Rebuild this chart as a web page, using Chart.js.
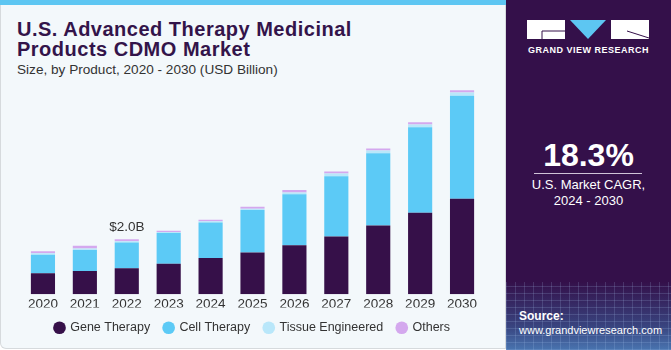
<!DOCTYPE html>
<html>
<head>
<meta charset="utf-8">
<script src="https://cdn.jsdelivr.net/npm/chart.js@4"></script>
<style>
  html, body { margin: 0; padding: 0; width: 671px; height: 350px; overflow: hidden; background: #fff; font-family: "Liberation Sans", Arial, sans-serif; }
  .left { position: absolute; left: 0; top: 0; width: 504px; height: 348px; background: #f3f8fb; border: 1px solid #d6dadd; border-top: none; border-radius: 0 0 0 6px; }
  .stripe { position: absolute; left: 0; top: 0; width: 506px; height: 5px; background: #5dc6f2; }
  .title { position: absolute; left: 17px; top: 19px; font-weight: bold; font-size: 20px; line-height: 20px; color: #33144a; letter-spacing: 0.5px; }
  .sub { position: absolute; left: 17px; top: 62px; font-size: 13.6px; color: #333; }
  .wrap { position: absolute; left: 0; top: 0; width: 505px; height: 350px; }
  .right { position: absolute; left: 506px; top: 0; width: 165px; height: 350px; background: #34104a; overflow: hidden; }
  .grid { position: absolute; left: 0; top: 282px; width: 165px; height: 68px;
    background:
      repeating-linear-gradient(90deg, rgba(170,200,240,0.18) 0 1px, transparent 1px 9px),
      repeating-linear-gradient(0deg, rgba(170,200,240,0.18) 0 1px, transparent 1px 7px),
      linear-gradient(to bottom, rgba(52,16,74,0) 0%, rgba(60,110,170,0.55) 65%, rgba(80,150,210,0.75) 100%); }
  .gvr { position: absolute; left: 0; top: 45px; width: 165px; text-align: center; color: #fff; font-weight: bold; font-size: 9px; letter-spacing: 0.5px; }
  .cagr { position: absolute; left: 0; top: 137px; width: 165px; text-align: center; color: #fff; font-weight: bold; font-size: 32px; }
  .line { position: absolute; left: 28px; top: 173px; width: 108px; height: 1px; background: #cfc3d8; }
  .cap { position: absolute; left: 0; top: 177px; width: 165px; text-align: center; color: #fff; font-size: 13px; line-height: 16px; }
  .src { position: absolute; left: 13px; top: 309px; color: #fff; font-size: 11px; line-height: 14px; }
  .src b { font-size: 12px; }
</style>
</head>
<body>
<div class="left"></div>
<div class="stripe"></div>
<div class="title">U.S. Advanced Therapy Medicinal<br>Products CDMO Market</div>
<div class="sub">Size, by Product, 2020 - 2030 (USD Billion)</div>
<div class="wrap"><canvas id="c"></canvas></div>
<div class="right">
  <svg style="position:absolute;left:21px;top:20px" width="122" height="20" viewBox="0 0 122 20">
    <rect x="0" y="0" width="38" height="19" fill="#fff"/>
    <line x1="15" y1="11" x2="38" y2="11" stroke="#34104a" stroke-width="1"/>
    <line x1="15" y1="11" x2="15" y2="19" stroke="#34104a" stroke-width="1"/>
    <polygon points="43,0 79,0 61,19" fill="#5dc6f2"/>
    <rect x="84" y="0" width="38" height="19" fill="#fff"/>
    <line x1="100" y1="11" x2="122" y2="18" stroke="#34104a" stroke-width="1"/>
  </svg>
  <div class="gvr">GRAND VIEW RESEARCH</div>
  <div class="cagr">18.3%</div>
  <div class="line"></div>
  <div class="cap">U.S. Market CAGR,<br>2024 - 2030</div>
  <div class="grid"></div>
  <div class="src"><b>Source:</b><br>www.grandviewresearch.com</div>
</div>
<script>
const years = ['2020', '2021', '2022', '2023', '2024', '2025', '2026', '2027', '2028', '2029', '2030'];
const geneTherapy = [0.76, 0.85, 0.95, 1.11, 1.32, 1.52, 1.78, 2.10, 2.50, 2.96, 3.47];
const cellTherapy = [0.68, 0.76, 0.93, 1.12, 1.29, 1.54, 1.85, 2.19, 2.62, 3.11, 3.74];
const tissueEngineered = [0.05, 0.05, 0.05, 0.03, 0.04, 0.05, 0.07, 0.10, 0.10, 0.10, 0.12];
const others = [0.07, 0.10, 0.07, 0.05, 0.06, 0.07, 0.09, 0.07, 0.07, 0.08, 0.08];
const labelYear = '2022';
const labelText = '$2.0B';

// value label above the 2022 stack
const barLabel = {
  id: 'barLabel',
  afterDatasetsDraw(chart) {
    const i = years.indexOf(labelYear);
    const meta = chart.getDatasetMeta(chart.data.datasets.length - 1);
    const bar = meta.data[i];
    const ctx = chart.ctx;
    ctx.save();
    ctx.font = '13.5px "Liberation Sans", Arial, sans-serif';
    ctx.fillStyle = '#333';
    ctx.textAlign = 'center';
    ctx.textBaseline = 'bottom';
    ctx.fillText(labelText, bar.x, bar.y - 5);
    ctx.restore();
  }
};

const common = { barPercentage: 0.6, categoryPercentage: 0.96, borderWidth: 0 };

new Chart(document.getElementById('c'), {
  type: 'bar',
  data: {
    labels: years,
    datasets: [
      { label: 'Gene Therapy', data: geneTherapy, backgroundColor: '#361049', ...common },
      { label: 'Cell Therapy', data: cellTherapy, backgroundColor: '#5ccaf6', ...common },
      { label: 'Tissue Engineered', data: tissueEngineered, backgroundColor: '#b9e7fa', ...common },
      { label: 'Others', data: others, backgroundColor: '#d4a8ee', ...common }
    ]
  },
  options: {
    responsive: true,
    maintainAspectRatio: false,
    animation: false,
    layout: { padding: { top: 85, left: 22, right: 22, bottom: 6 } },
    scales: {
      x: {
        stacked: true,
        grid: { display: false, drawTicks: false },
        border: { display: false },
        ticks: { color: '#333', font: { size: 13.5, family: '"Liberation Sans", Arial, sans-serif' }, padding: 2 },
        afterFit(scale) { scale.height -= 7; }
      },
      y: { stacked: true, display: false, min: 0, max: 7.6 }
    },
    plugins: {
      legend: {
        position: 'bottom',
        labels: {
          usePointStyle: true,
          pointStyle: 'circle',
          boxWidth: 9,
          boxHeight: 9,
          padding: 14,
          color: '#333',
          font: { size: 12.5, family: '"Liberation Sans", Arial, sans-serif' }
        }
      },
      tooltip: { enabled: false }
    }
  },
  plugins: [barLabel]
});
</script>
</body>
</html>
